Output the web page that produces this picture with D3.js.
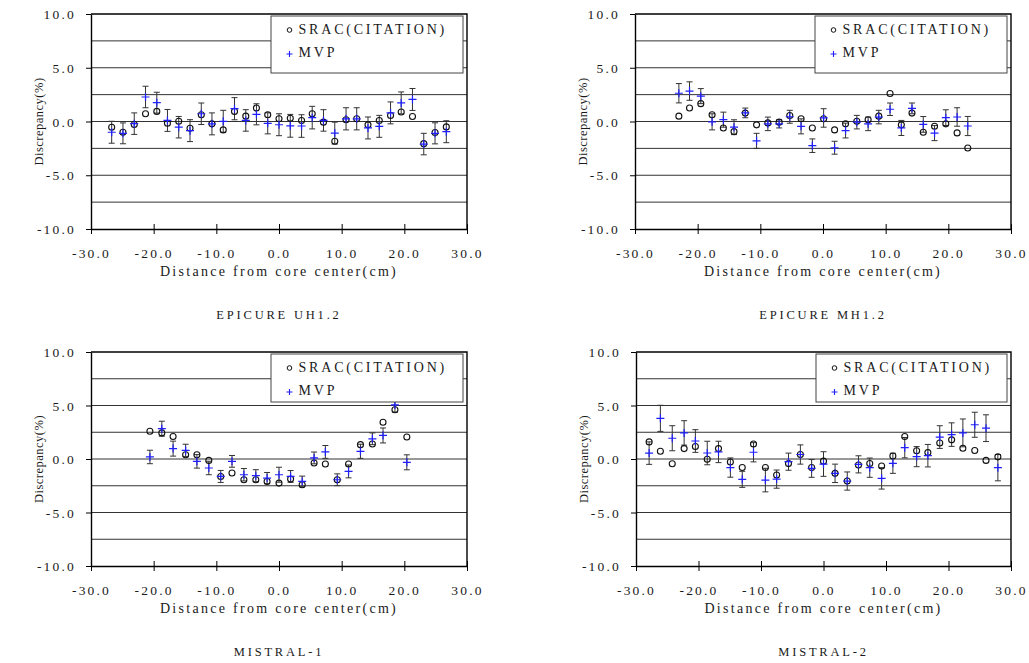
<!DOCTYPE html>
<html>
  <head>
    <meta charset="utf-8" />
    <style>
      body { margin: 0; background: #fff; }
      svg text { font-family: "Liberation Serif", serif; fill: #1a1a1a; }
    </style>
  </head>
  <body>
    <svg></svg>
    <script src="https://cdn.jsdelivr.net/npm/d3@7"></script>
    <script>
      let width = 1029,
        height = 663;

      // axis ticks shared by all four panels
      const xTicks = [-30, -20, -10, 0, 10, 20, 30];
      const yTicks = [-10, -5, 0, 5, 10];
      const gridValues = [7.5, 5, 2.5, 0, -2.5, -5, -7.5];
      const seriesNames = ["SRAC(CITATION)", "MVP"];

      // EPICURE UH1.2
      const uhX = [-26.7, -24.9, -23.1, -21.3, -19.5, -17.8, -16.0, -14.2, -12.4, -10.7, -8.9, -7.1, -5.3, -3.6, -1.8, 0.0,
        1.8, 3.6, 5.3, 7.1, 8.9, 10.7, 12.4, 14.2, 16.0, 17.8, 19.5, 21.3, 23.1, 24.9, 26.7];
      const uhSrac = [-0.53, -1.0, -0.28, 0.72, 0.94, -0.16, 0.03, -0.63, 0.63, -0.22, -0.78, 0.94, 0.5, 1.25, 0.63, 0.25,
        0.3, 0.1, 0.72, -0.06, -1.84, 0.16, 0.25, -0.31, 0.1, 0.56, 0.88, 0.47, -2.06, -1.03, -0.5];
      const uhMvp = [-1.0, -1.1, -0.2, 2.28, 1.75, 0.1, -0.53, -0.85, 0.72, -0.22, 0.02, 1.19, 0.1, 0.67, -0.17, -0.3,
        -0.4, -0.42, 0.36, 0.1, -1.08, 0.25, 0.25, -0.6, -0.45, 0.8, 1.73, 2.05, -2.1, -1.1, -0.95];
      const uhErr = [1.02, 0.97, 1.0, 1.0, 0.97, 1.02, 1.0, 1.02, 1.0, 1.02, 1.02, 1.03, 1.0, 0.98, 0.98, 1.02,
        1.06, 1.05, 1.05, 1.0, 1.02, 1.03, 1.03, 1.02, 1.02, 1.02, 1.02, 1.02, 1.0, 0.98, 1.02];

      // EPICURE MH1.2
      const mhX = [-23.0, -21.3, -19.5, -17.7, -15.9, -14.2, -12.4, -10.6, -8.8, -7.0, -5.3, -3.5, -1.7, 0.1,
        1.85, 3.6, 5.4, 7.2, 8.9, 10.7, 12.5, 14.2, 16.0, 17.8, 19.6, 21.4, 23.1];
      const mhSrac = [0.5, 1.25, 1.66, 0.63, -0.6, -0.94, 0.78, -0.31, -0.13, -0.06, 0.56, 0.25, -0.6, 0.25,
        -0.78, -0.22, 0.03, 0.16, 0.5, 2.6, -0.31, 0.78, -1.0, -0.44, -0.22, -1.06, -2.47];
      const mhMvp = [2.63, 2.83, 2.36, -0.03, 0.17, -0.53, 0.8, -1.8, -0.22, -0.22, 0.44, -0.45, -2.25, 0.33,
        -2.44, -0.84, -0.06, -0.22, 0.41, 1.14, -0.6, 1.22, -0.27, -1.08, 0.36, 0.42, -0.42];
      const mhErr = [0.9, 0.86, 0.7, 0.75, 0.7, 0.69, 0.45, 0.7, 0.63, 0.38, 0.6, 0.7, 0.63, 0.86,
        0.6, 0.69, 0.63, 0.63, 0.63, 0.58, 0.7, 0.5, 0.73, 0.7, 0.73, 0.86, 0.89];

      // MISTRAL-1
      const m1X = [-20.6, -18.7, -16.9, -14.9, -13.1, -11.2, -9.3, -7.5, -5.6, -3.7, -1.9, 0.0,
        1.85, 3.7, 5.6, 7.4, 9.3, 11.1, 13.0, 14.9, 16.6, 18.5, 20.4];
      const m1Srac = [2.6, 2.44, 2.1, 0.4, 0.4, -0.13, -1.63, -1.31, -1.94, -1.94, -2.1, -2.25,
        -1.88, -2.4, -0.38, -0.47, -1.94, -0.47, 1.34, 1.4, 3.44, 4.6, 2.06];
      const m1Mvp = [0.19, 2.83, 0.97, 0.8, -0.22, -0.84, -1.63, -0.22, -1.47, -1.56, -1.78, -1.47,
        -1.63, -2.1, 0.1, 0.66, -1.94, -1.16, 0.72, 1.89, 2.2, 5.05, -0.31];
      const m1Err = [0.63, 0.7, 0.7, 0.58, 0.63, 0.63, 0.56, 0.55, 0.58, 0.56, 0.52, 0.7,
        0.55, 0.5, 0.55, 0.6, 0.55, 0.6, 0.66, 0.55, 0.7, 0.67, 0.7];

      // MISTRAL-2
      const m2X = [-27.9, -26.1, -24.2, -22.3, -20.5, -18.6, -16.8, -14.9, -13.0, -11.2, -9.3, -7.5, -5.6, -3.7, -1.9, 0.0,
        1.85, 3.8, 5.6, 7.4, 9.3, 11.1, 13.0, 14.9, 16.7, 18.6, 20.5, 22.3, 24.2, 26.0, 27.9];
      const m2Srac = [1.6, 0.72, -0.45, 0.97, 1.17, -0.03, 0.97, -0.28, -0.8, 1.4, -0.8, -1.5, -0.43, 0.42, -0.8, -0.2,
        -1.34, -2.06, -0.56, -0.42, -0.65, 0.28, 2.1, 0.77, 0.6, 1.5, 1.79, 1.0, 0.8, -0.13, 0.2];
      const m2Mvp = [0.55, 3.8, 1.94, 2.44, 1.68, 0.56, 0.66, -0.8, -1.9, 0.63, -1.97, -1.88, -0.25, 0.42, -0.88, -0.47,
        -1.34, -2.06, -0.5, -0.81, -1.81, -0.4, 1.06, 0.22, 0.31, 2.05, 2.28, 2.44, 3.2, 2.88, -0.81];
      const m2Err = [1.05, 1.22, 1.17, 1.14, 1.06, 1.1, 1.0, 0.9, 0.75, 0.9, 1.1, 0.85, 0.8, 0.9, 0.83, 1.15,
        0.86, 0.85, 0.8, 0.9, 1.0, 0.94, 0.95, 0.94, 1.05, 1.06, 1.1, 1.3, 1.17, 1.25, 1.23];

      let svg = d3.select("svg").attr("width", width).attr("height", height);

      const panels = [
        { title: "EPICURE UH1.2", xs: uhX, srac: uhSrac, mvp: uhMvp, err: uhErr,
          left: 91, right: 467, top: 14, bottom: 229, legendH: 57 },
        { title: "EPICURE MH1.2", xs: mhX, srac: mhSrac, mvp: mhMvp, err: mhErr,
          left: 635, right: 1011, top: 14, bottom: 229, legendH: 57 },
        { title: "MISTRAL-1", xs: m1X, srac: m1Srac, mvp: m1Mvp, err: m1Err,
          left: 91, right: 467, top: 352, bottom: 566, legendH: 48 },
        { title: "MISTRAL-2", xs: m2X, srac: m2Srac, mvp: m2Mvp, err: m2Err,
          left: 636, right: 1011, top: 352, bottom: 566, legendH: 48 },
      ];

      // plain hyphen for negatives, like the original
      const fmt = (d) => d3.format(".1f")(d).replace("\u2212", "-");

      function drawPanel(p) {
        let x = d3.scaleLinear().domain([-30, 30]).range([p.left, p.right]);
        let y = d3.scaleLinear().domain([-10, 10]).range([p.bottom, p.top]);
        let g = svg.append("g");

        // horizontal grid lines
        g.selectAll(".grid")
          .data(gridValues)
          .join("line")
          .attr("x1", p.left)
          .attr("x2", p.right)
          .attr("y1", (d) => y(d))
          .attr("y2", (d) => y(d))
          .attr("stroke", "#333")
          .attr("stroke-width", 1);

        // top and right border
        g.append("path")
          .attr("d", `M${p.left},${y(10)}H${x(30)}V${y(-10)}`)
          .attr("fill", "none")
          .attr("stroke", "#000")
          .attr("stroke-width", 1.4);

        // x axis, ticks cross the line
        g.append("g")
          .attr("transform", `translate(0,${p.bottom})`)
          .call(d3.axisBottom(x).tickValues(xTicks).tickFormat(fmt).tickSize(5).tickSizeOuter(0))
          .call((a) => {
            a.attr("font-family", null).attr("font-size", null);
            a.select(".domain").attr("stroke", "#000").attr("stroke-width", 1.4);
            a.selectAll(".tick line").attr("y1", -5).attr("y2", 5).attr("stroke", "#000");
            a.selectAll(".tick text")
              .attr("y", 29)
              .attr("dy", null)
              .style("font-size", "13.5px")
              .style("letter-spacing", "2.2px");
          });

        // y axis
        g.append("g")
          .attr("transform", `translate(${p.left},0)`)
          .call(d3.axisLeft(y).tickValues(yTicks).tickFormat(fmt).tickSize(5).tickSizeOuter(0))
          .call((a) => {
            a.attr("font-family", null).attr("font-size", null);
            a.select(".domain").attr("stroke", "#000").attr("stroke-width", 1.4);
            a.selectAll(".tick line").attr("stroke", "#000");
            a.selectAll(".tick text")
              .attr("x", -15)
              .attr("dy", "0.35em")
              .style("font-size", "13.5px")
              .style("letter-spacing", "2.2px");
          });

        // axis titles and panel caption
        let cx = (p.left + p.right) / 2;
        g.append("text")
          .attr("x", cx)
          .attr("y", p.bottom + 47)
          .attr("text-anchor", "middle")
          .style("font-size", "14px")
          .style("letter-spacing", "2.3px")
          .text("Distance from core center(cm)");
        g.append("text")
          .attr("transform", `translate(${p.left - 48},${(p.top + p.bottom) / 2}) rotate(-90)`)
          .attr("text-anchor", "middle")
          .style("font-size", "12.5px")
          .style("letter-spacing", "0.5px")
          .text("Discrepancy(%)");
        g.append("text")
          .attr("x", cx)
          .attr("y", p.bottom + 90)
          .attr("text-anchor", "middle")
          .style("font-size", "12.5px")
          .style("letter-spacing", "2.8px")
          .text(p.title);

        let pts = p.xs.map((d, i) => ({ x: d, srac: p.srac[i], mvp: p.mvp[i], err: p.err[i] }));

        // MVP error bars
        let eb = g.append("g").attr("stroke", "#333").attr("stroke-width", 1);
        eb.selectAll(".bar")
          .data(pts)
          .join("path")
          .attr("fill", "none")
          .attr("d", (d) => {
            let px = x(d.x),
              y1 = y(d.mvp + d.err),
              y2 = y(d.mvp - d.err);
            return `M${px - 3},${y1}H${px + 3}M${px},${y1}V${y2}M${px - 3},${y2}H${px + 3}`;
          });

        // SRAC circles
        g.append("g")
          .selectAll("circle")
          .data(pts)
          .join("circle")
          .attr("cx", (d) => x(d.x))
          .attr("cy", (d) => y(d.srac))
          .attr("r", 3)
          .attr("fill", "none")
          .attr("stroke", "#111")
          .attr("stroke-width", 1.1);

        // MVP plus markers
        g.append("g")
          .selectAll("path")
          .data(pts)
          .join("path")
          .attr("d", (d) => {
            let px = x(d.x),
              py = y(d.mvp);
            return `M${px - 4},${py}H${px + 4}M${px},${py - 4}V${py + 4}`;
          })
          .attr("stroke", "#1f1fff")
          .attr("stroke-width", 1.2);

        // legend
        let lx = p.left + 180,
          ly = p.top + 2,
          lw = p.right - 4 - lx;
        let lg = g.append("g");
        lg.append("rect")
          .attr("x", lx)
          .attr("y", ly)
          .attr("width", lw)
          .attr("height", p.legendH)
          .attr("fill", "#fff")
          .attr("stroke", "#444")
          .attr("stroke-width", 1);
        lg.append("circle")
          .attr("cx", lx + 18.5)
          .attr("cy", ly + 14)
          .attr("r", 2.3)
          .attr("fill", "none")
          .attr("stroke", "#111");
        lg.append("path")
          .attr("d", `M${lx + 15.5},${ly + 38}h6M${lx + 18.5},${ly + 35}v6`)
          .attr("stroke", "#1f1fff")
          .attr("stroke-width", 1.1);
        lg.selectAll("text")
          .data(seriesNames)
          .join("text")
          .attr("x", lx + 27.5)
          .attr("y", (d, i) => ly + 17.5 + i * 23)
          .style("font-size", "14px")
          .style("letter-spacing", "2.8px")
          .text((d) => d);
      }

      panels.forEach(drawPanel);
    </script>
  </body>
</html>
